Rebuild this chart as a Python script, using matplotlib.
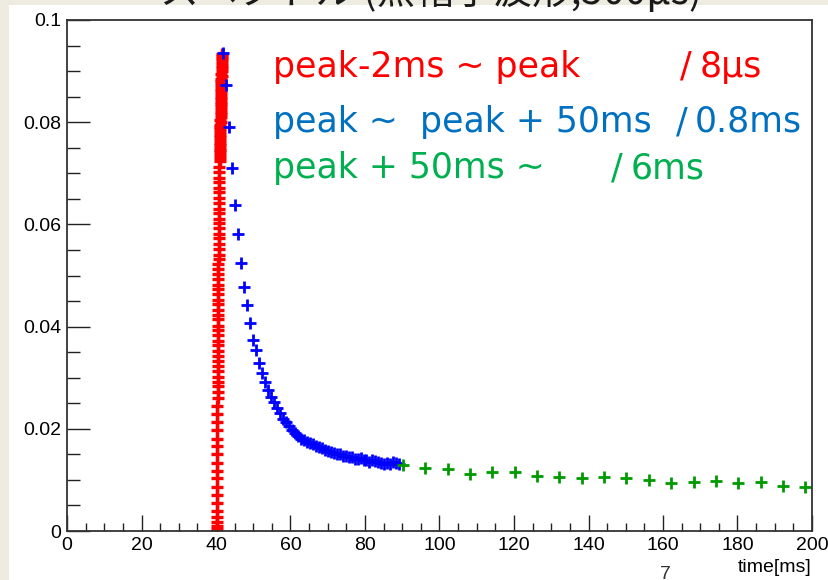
import numpy as np
import matplotlib.pyplot as plt
from matplotlib.patches import Rectangle
from matplotlib.ticker import MultipleLocator, FuncFormatter

# peak-2ms ~ peak  (8us bins)
red_t = [40.30, 40.31, 40.31, 40.32, 40.32, 40.33,
         40.33, 40.34, 40.34, 40.35, 40.35, 40.36,
         40.36, 40.37, 40.37, 40.38, 40.39, 40.40,
         40.41, 40.42, 40.43, 40.44, 40.45, 40.46,
         40.47, 40.48, 40.49, 40.50, 40.51, 40.52,
         40.53, 40.54, 40.55, 40.56, 40.57, 40.58,
         40.59, 40.60, 40.61, 40.62, 40.63, 40.64,
         40.65, 40.66, 40.67, 40.68, 40.69, 40.70,
         40.71, 40.72, 40.73, 40.74, 40.75, 40.76,
         40.77, 40.78, 40.79, 40.80, 40.81, 40.82,
         40.83, 40.84, 40.85, 40.86,
         40.96, 41.02, 40.98, 41.05, 41.01, 41.08,
         41.04, 41.11, 41.07, 41.14, 41.10, 41.17,
         41.13, 41.20, 41.16, 41.23, 41.19, 41.26,
         41.22, 41.29, 41.25, 41.32, 41.28, 41.35,
         41.31, 41.38, 41.34, 41.41, 41.37, 41.44,
         41.40, 41.47, 41.43, 41.50, 41.46, 41.53,
         41.49, 41.56, 41.52, 41.59, 41.55, 41.62,
         41.60]
red_v = [0.0003, 0.0010, 0.0018, 0.0027, 0.0040, 0.0055,
         0.0071, 0.0087, 0.0103, 0.0118, 0.0134, 0.0150,
         0.0166, 0.0181, 0.0197, 0.0213, 0.0229, 0.0245,
         0.0260, 0.0272, 0.0283, 0.0291, 0.0302, 0.0313,
         0.0322, 0.0333, 0.0342, 0.0353, 0.0364, 0.0372,
         0.0383, 0.0393, 0.0402, 0.0414, 0.0423, 0.0432,
         0.0444, 0.0452, 0.0463, 0.0473, 0.0482, 0.0494,
         0.0503, 0.0512, 0.0522, 0.0533, 0.0541, 0.0552,
         0.0562, 0.0573, 0.0581, 0.0592, 0.0603, 0.0611,
         0.0622, 0.0631, 0.0642, 0.0651, 0.0663, 0.0671,
         0.0682, 0.0691, 0.0702, 0.0712,
         0.0725, 0.0730, 0.0735, 0.0741, 0.0745, 0.0750,
         0.0756, 0.0760, 0.0765, 0.0771, 0.0775, 0.0780,
         0.0786, 0.0790, 0.0795, 0.0801, 0.0805, 0.0810,
         0.0816, 0.0820, 0.0825, 0.0831, 0.0835, 0.0840,
         0.0846, 0.0850, 0.0855, 0.0861, 0.0865, 0.0870,
         0.0876, 0.0880, 0.0885, 0.0891, 0.0895, 0.0900,
         0.0906, 0.0910, 0.0915, 0.0921, 0.0925, 0.0930,
         0.0934]

# peak ~ peak + 50ms  (0.8ms bins)
blue_t = [42.0, 42.8, 43.6, 44.4, 45.2, 46.0, 46.8, 47.6, 48.4, 49.2,
          50.0, 50.8, 51.6, 52.4, 53.2, 54.0, 54.8, 55.6, 56.4, 57.2,
          58.0, 58.8, 59.6, 60.4, 61.2, 62.0, 62.8, 63.6, 64.4, 65.2,
          66.0, 66.8, 67.6, 68.4, 69.2, 70.0, 70.8, 71.6, 72.4, 73.2,
          74.0, 74.8, 75.6, 76.4, 77.2, 78.0, 78.8, 79.6, 80.4, 81.2,
          82.0, 82.8, 83.6, 84.4, 85.2, 86.0, 86.8, 87.6, 88.4, 89.2]
blue_v = [0.0935, 0.0873, 0.0790, 0.0711, 0.0638, 0.0581, 0.0525, 0.0478, 0.0442, 0.0408,
          0.0374, 0.0354, 0.0328, 0.0310, 0.0292, 0.0275, 0.0262, 0.0252, 0.0241, 0.0230,
          0.0220, 0.0213, 0.0206, 0.0198, 0.0191, 0.0185, 0.0181, 0.0179, 0.0175, 0.0172,
          0.0170, 0.0167, 0.0165, 0.0162, 0.0159, 0.0157, 0.0155, 0.0153, 0.0151, 0.0150,
          0.0147, 0.0146, 0.0144, 0.0145, 0.0141, 0.0140, 0.0142, 0.0139, 0.0138, 0.0136,
          0.0139, 0.0137, 0.0135, 0.0133, 0.0131, 0.0134, 0.0132, 0.0136, 0.0134, 0.0132]

# peak + 50ms ~  (6ms bins)
green_t = [90.2, 96.2, 102.2, 108.2, 114.2, 120.2, 126.2, 132.2, 138.2, 144.2,
           150.2, 156.2, 162.2, 168.2, 174.2, 180.2, 186.2, 192.2, 198.2]
green_v = [0.0129, 0.0124, 0.0121, 0.0111, 0.0115, 0.0115, 0.0108, 0.0105, 0.0103, 0.0105,
           0.0103, 0.0100, 0.0093, 0.0095, 0.0098, 0.0093, 0.0095, 0.0088, 0.0087]

W, H = 829, 580
def fx(px):
    return px / W
def fy(py):
    return 1 - py / H

fig = plt.figure(figsize=(W / 100, H / 100), dpi=100, facecolor='#EEECE1')
# white ROOT canvas pasted on the slide
fig.add_artist(Rectangle((fx(9), 0), 1 - fx(9), fy(5), transform=fig.transFigure,
                         facecolor='white', edgecolor='none', zorder=0))

ax = fig.add_axes([fx(67), fy(531), fx(812) - fx(67), fy(20) - fy(531)])
ax.set_zorder(2)

ax.plot(red_t, red_v, '+', color='#ff0000', ms=9, mew=2.4, ls='none')
ax.plot(blue_t, blue_v, '+', color='#0000ff', ms=8.5, mew=2.0, ls='none')
ax.plot(green_t, green_v, '+', color='#009a00', ms=8.5, mew=2.0, ls='none')

ax.set_xlim(0, 200)
ax.set_ylim(0, 0.1)
ax.xaxis.set_major_locator(MultipleLocator(20))
ax.xaxis.set_minor_locator(MultipleLocator(5))
ax.yaxis.set_major_locator(MultipleLocator(0.02))
ax.yaxis.set_minor_locator(MultipleLocator(0.005))
ax.yaxis.set_major_formatter(FuncFormatter(lambda v, p: '%g' % round(v, 4)))

ax.tick_params(which='both', direction='in', top=False, right=False,
               width=1.0, color='#222222', labelsize=14, pad=4)
ax.tick_params(axis='x', which='major', length=11.5)
ax.tick_params(axis='x', which='minor', length=5.8)
ax.tick_params(axis='y', which='major', length=16.5)
ax.tick_params(axis='y', which='minor', length=9.4)
for lab in ax.get_xticklabels() + ax.get_yticklabels():
    lab.set_family('Liberation Sans')
for sp in ax.spines.values():
    sp.set_linewidth(1.3)
    sp.set_color('#333333')

fig.text(fx(812), fy(567), 'time[ms]', ha='right', va='center', fontsize=14,
         family='Liberation Sans', zorder=3)
fig.text(fx(665), fy(566), '7', ha='center', va='top', fontsize=14,
         family='Liberation Sans', color='#333333', zorder=3)

# slide title, mostly outside the picture
fig.text(fx(160), fy(4), 'スペクトル (黒帽子波形,500μs)', ha='left', va='baseline',
         fontsize=28, family=['Noto Sans CJK JP', 'DejaVu Sans'], color='#1a1a1a', zorder=3)

# annotations (slash drawn apart, like the wide slash of the slide font)
fs = 25
ann = [
    (273, 77, 'peak-2ms ~ peak', '#ff0000'),
    (680, 77, '/', '#ff0000'),
    (700, 77, '8μs', '#ff0000'),
    (273, 132, 'peak ~', '#0070c0'),
    (420, 132, 'peak + 50ms', '#0070c0'),
    (676, 132, '/', '#0070c0'),
    (695, 132, '0.8ms', '#0070c0'),
    (273, 178, 'peak + 50ms ~', '#00b050'),
    (611, 178, '/', '#00b050'),
    (631, 178, '6ms', '#00b050'),
]
for px, py, s, c in ann:
    fig.text(fx(px), fy(py), s, ha='left', va='baseline', fontsize=fs,
             family='DejaVu Sans', color=c, zorder=4)

plt.savefig('out.png', dpi=100, facecolor=fig.get_facecolor())
